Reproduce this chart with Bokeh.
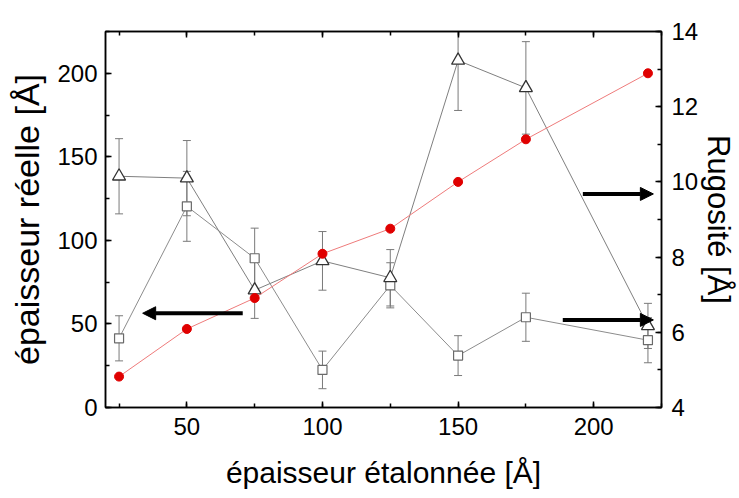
from bokeh.plotting import figure
from bokeh.models import (Range1d, LinearAxis, SingleIntervalTicker, Arrow, Whisker, TeeHead,
                          NormalHead, CustomJSTickFormatter, ColumnDataSource)
from bokeh.embed import file_html
from bokeh.resources import INLINE

# ---- data ----
epaisseur_etalonnee = [25, 50, 75, 100, 125, 150, 175, 220]
epaisseur_reelle = [18.5, 47, 65.5, 92, 107, 135, 160.5, 200]
rugosite_tri = [10.15, 10.1, 7.12, 7.9, 7.45, 13.23, 12.5, 6.17]
rugosite_tri_err = [1.0, 1.0, 0.75, 0.78, 0.75, 1.33, 1.23, 0.6]
rugosite_sq = [5.84, 9.35, 7.97, 5.0, 7.25, 5.38, 6.4, 5.79]
rugosite_sq_err = [0.6, 0.93, 0.8, 0.5, 0.6, 0.53, 0.64, 0.6]

FONT = "Liberation Sans"

p = figure(width=739, height=498, x_range=Range1d(20, 225), y_range=Range1d(0, 225),
           output_backend="svg", toolbar_location=None,
           min_border_left=105, min_border_right=76, min_border_top=31, min_border_bottom=91)
p.extra_y_ranges = {"rug": Range1d(4, 14)}
p.xgrid.visible = False
p.ygrid.visible = False
p.outline_line_color = "black"
p.outline_line_width = 1.5
p.background_fill_color = "white"
p.border_fill_color = "white"


def style_axis(ax, label_size="24px"):
    ax.axis_line_width = 1.5
    ax.axis_line_color = "black"
    ax.major_tick_in = 6
    ax.major_tick_out = 0
    ax.minor_tick_in = 4
    ax.minor_tick_out = 0
    ax.major_tick_line_width = 1.5
    ax.minor_tick_line_width = 1.5
    ax.major_tick_line_color = "black"
    ax.minor_tick_line_color = "black"
    ax.major_label_text_font = FONT
    ax.major_label_text_font_size = label_size
    ax.major_label_text_color = "black"
    ax.axis_label_text_font = FONT
    ax.axis_label_text_font_style = "normal"
    ax.axis_label_text_color = "black"


# bottom
xa = p.xaxis[0]
xa.ticker = SingleIntervalTicker(interval=50, num_minor_ticks=2)
style_axis(xa)
xa.axis_label = "épaisseur étalonnée [Å]"
xa.axis_label_text_font_size = "30px"
xa.major_label_standoff = 10
xa.axis_label_standoff = 18

# left
ya = p.yaxis[0]
ya.ticker = SingleIntervalTicker(interval=50, num_minor_ticks=2)
style_axis(ya)
ya.axis_label = "épaisseur réelle [Å]"
ya.axis_label_text_font_size = "34px"
ya.major_label_standoff = 8
ya.axis_label_standoff = 8

# right
ra = LinearAxis(y_range_name="rug", ticker=SingleIntervalTicker(interval=2, num_minor_ticks=2))
style_axis(ra)
ra.axis_label = "Rugosité [Å]"
ra.axis_label_text_font_size = "31px"
ra.major_label_standoff = 10
ra.axis_label_standoff = 0
p.add_layout(ra, "right")

# top (ticks only)
ta = LinearAxis(ticker=SingleIntervalTicker(interval=50, num_minor_ticks=2),
                formatter=CustomJSTickFormatter(code="return ''"))
style_axis(ta)
ta.major_label_standoff = 0
p.add_layout(ta, "above")

src = ColumnDataSource(dict(
    x=epaisseur_etalonnee,
    reel=epaisseur_reelle,
    tri=rugosite_tri,
    tri_lo=[v - e for v, e in zip(rugosite_tri, rugosite_tri_err)],
    tri_hi=[v + e for v, e in zip(rugosite_tri, rugosite_tri_err)],
    sq=rugosite_sq,
    sq_lo=[v - e for v, e in zip(rugosite_sq, rugosite_sq_err)],
    sq_hi=[v + e for v, e in zip(rugosite_sq, rugosite_sq_err)],
))

GRAY = "#7a7a7a"


def whisker(lo, hi):
    w = Whisker(source=src, base="x", lower=lo, upper=hi, y_range_name="rug",
                line_color=GRAY, line_width=1,
                upper_head=TeeHead(size=8, line_color=GRAY, line_width=1),
                lower_head=TeeHead(size=8, line_color=GRAY, line_width=1))
    p.add_layout(w)


# squares series (right axis)
whisker("sq_lo", "sq_hi")
p.line(x="x", y="sq", source=src, y_range_name="rug", line_color="#8c8c8c", line_width=1)
p.scatter(x="x", y="sq", source=src, y_range_name="rug", marker="square", size=9,
          fill_color="white", line_color="#6a6a6a", line_width=1.2)

# triangles series (right axis)
whisker("tri_lo", "tri_hi")
p.line(x="x", y="tri", source=src, y_range_name="rug", line_color="#7f7f7f", line_width=1)
p.scatter(x="x", y="tri", source=src, y_range_name="rug", marker="triangle", size=13,
          fill_color="white", line_color="#333333", line_width=1.3)

# red series (left axis)
p.line(x="x", y="reel", source=src, line_color="#ee7b7b", line_width=1)
p.scatter(x="x", y="reel", source=src, marker="circle", size=9,
          fill_color="#e00000", line_color="#e00000")


# arrows (annotations pointing to the relevant axis)
def arrow(x0, y0, x1, y1, yr="default"):
    a = Arrow(x_start=x0, y_start=y0, x_end=x1, y_end=y1, y_range_name=yr,
              line_width=4, line_color="black",
              end=NormalHead(size=13, fill_color="black", line_color="black", line_width=1))
    p.add_layout(a)


arrow(70.6, 56.4, 33.7, 56.4)
arrow(196.0, 9.68, 222.0, 9.68, "rug")
arrow(188.6, 6.33, 222.0, 6.33, "rug")

open("out.html", "w").write(file_html(p, INLINE))
